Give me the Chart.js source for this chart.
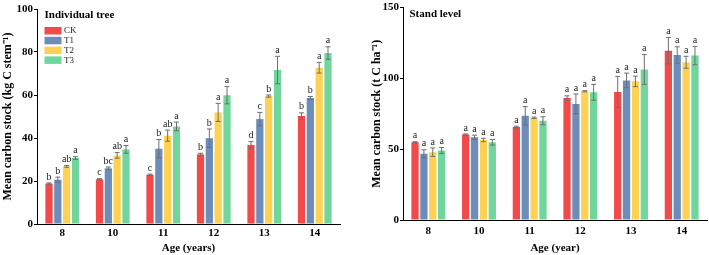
<!DOCTYPE html>
<html>
<head>
<meta charset="utf-8">
<script src="https://cdn.jsdelivr.net/npm/chart.js@4.4.1/dist/chart.umd.min.js"></script>
<style>
  html, body { margin: 0; padding: 0; background: #fff; }
  body { width: 709px; height: 255px; position: relative; overflow: hidden; }
  .panel { position: absolute; top: 0; height: 255px; }
  #left { left: 0; width: 343px; }
  #right { left: 355px; width: 354px; }
</style>
</head>
<body>
<div class="panel" id="left"><canvas id="treeChart"></canvas></div>
<div class="panel" id="right"><canvas id="standChart"></canvas></div>
<script>
// Categories and series
const ages = ['8', '10', '11', '12', '13', '14'];
const treatments = ['CK', 'T1', 'T2', 'T3'];
const colors = ['#F2494B', '#6C8DB9', '#FDD253', '#70D69B'];

// Individual tree carbon stock (kg C stem-1)
const treeCK = [18.8, 20.8, 22.9, 32.4, 36.8, 50.2];
const treeT1 = [20.6, 25.9, 35.0, 39.9, 48.8, 58.6];
const treeT2 = [26.8, 31.9, 41.1, 51.9, 59.5, 72.7];
const treeT3 = [30.7, 34.7, 45.4, 59.9, 71.6, 79.5];
const treeErrCK = [0.3, 0.3, 0.3, 0.5, 1.5, 1.5];
const treeErrT1 = [1.2, 0.6, 4.3, 4.3, 3.1, 0.7];
const treeErrT2 = [0.4, 1.3, 2.6, 4.2, 0.5, 2.5];
const treeErrT3 = [0.6, 1.8, 2.0, 4.0, 6.4, 2.9];
const treeLetCK = ['b', 'c', 'c', 'b', 'd', 'b'];
const treeLetT1 = ['b', 'bc', 'b', 'b', 'c', 'b'];
const treeLetT2 = ['ab', 'ab', 'ab', 'a', 'b', 'a'];
const treeLetT3 = ['a', 'a', 'a', 'a', 'a', 'a'];

// Stand level carbon stock (t C ha-1)
const standCK = [54.9, 60.3, 65.6, 86.2, 90.4, 119.6];
const standT1 = [46.7, 58.4, 73.6, 82.0, 98.6, 116.5];
const standT2 = [47.9, 56.5, 72.2, 90.9, 97.9, 111.4];
const standT3 = [49.1, 54.9, 70.1, 90.2, 106.3, 116.1];
const standErrCK = [0.4, 0.5, 0.6, 1.5, 11.0, 9.3];
const standErrT1 = [2.9, 1.5, 6.5, 7.0, 5.1, 5.8];
const standErrT2 = [3.0, 1.2, 0.5, 0.4, 3.7, 4.2];
const standErrT3 = [2.1, 2.0, 2.8, 5.6, 10.5, 6.5];
const standLetters = ['a', 'a', 'a', 'a', 'a', 'a'];

const serif = '"Liberation Serif", "Times New Roman", serif';

// Error bars and significance letters drawn on top of the bars
const errorBarPlugin = {
    id: 'errorBars',
    afterDatasetsDraw(chart) {
        const ctx = chart.ctx;
        const yScale = chart.scales.y;
        ctx.save();
        chart.data.datasets.forEach((ds, i) => {
            const meta = chart.getDatasetMeta(i);
            meta.data.forEach((bar, j) => {
                const v = ds.data[j];
                const e = ds.errors[j];
                const yTop = yScale.getPixelForValue(v + e);
                const yBot = yScale.getPixelForValue(v - e);
                ctx.strokeStyle = '#6f6f6f';
                ctx.lineWidth = 1;
                ctx.beginPath();
                ctx.moveTo(bar.x, yTop);
                ctx.lineTo(bar.x, yBot);
                ctx.moveTo(bar.x - 2.5, yTop);
                ctx.lineTo(bar.x + 2.5, yTop);
                ctx.moveTo(bar.x - 2.5, yBot);
                ctx.lineTo(bar.x + 2.5, yBot);
                ctx.stroke();
                ctx.fillStyle = '#222';
                ctx.font = '10px ' + serif;
                ctx.textAlign = 'center';
                ctx.textBaseline = 'bottom';
                ctx.fillText(ds.letters[j], bar.x, yTop - 1);
            });
        });
        ctx.restore();
    }
};

// Panel title plus legend box in the upper-left corner
const cornerPlugin = {
    id: 'corner',
    afterDraw(chart, args, opts) {
        const ctx = chart.ctx;
        const x0 = chart.chartArea.left + opts.dx;
        ctx.save();
        ctx.fillStyle = '#000';
        ctx.font = 'bold 11px ' + serif;
        ctx.textAlign = 'left';
        ctx.textBaseline = 'middle';
        ctx.fillText(opts.title, x0, opts.titleY);
        if (opts.legend) {
            chart.data.datasets.forEach((ds, i) => {
                const y = 27 + i * 9.8;
                ctx.fillStyle = ds.backgroundColor;
                ctx.fillRect(x0, y, 17, 7.5);
                ctx.fillStyle = '#222';
                ctx.font = '9px ' + serif;
                ctx.fillText(ds.label, x0 + 19.5, y + 4);
            });
        }
        ctx.restore();
    }
};

function makeDatasets(values, errors, letters, catPct, barPct) {
    return treatments.map((name, i) => ({
        label: name,
        data: values[i],
        errors: errors[i],
        letters: letters[i],
        backgroundColor: colors[i],
        borderWidth: 0,
        categoryPercentage: catPct,
        barPercentage: barPct
    }));
}

function makeChart(id, cfg) {
    return new Chart(document.getElementById(id), {
        type: 'bar',
        data: {
            labels: ages,
            datasets: makeDatasets(cfg.values, cfg.errors, cfg.letters, 0.7, 0.82)
        },
        plugins: [errorBarPlugin, cornerPlugin],
        options: {
            responsive: true,
            maintainAspectRatio: false,
            animation: false,
            layout: { padding: cfg.padding },
            plugins: {
                legend: { display: false },
                tooltip: { enabled: false },
                corner: cfg.corner
            },
            scales: {
                x: {
                    grid: { display: false, drawTicks: false },
                    border: { color: '#000', width: 1 },
                    ticks: {
                        color: '#000',
                        padding: cfg.xTickPad,
                        font: { family: serif, size: 11, weight: 'bold' }
                    },
                    title: {
                        display: true,
                        text: cfg.xTitle,
                        color: '#000',
                        padding: { top: 0, bottom: 0 },
                        font: { family: serif, size: 11, weight: 'bold' }
                    },
                    afterFit: s => { s.height = cfg.xHeight; }
                },
                y: {
                    min: 0,
                    max: cfg.max,
                    grid: { drawOnChartArea: false, drawTicks: true, tickLength: 3, color: '#000' },
                    border: { color: '#000', width: 1 },
                    ticks: {
                        stepSize: cfg.step,
                        color: '#000',
                        padding: 1,
                        font: { family: serif, size: 11, weight: 'bold' }
                    },
                    title: {
                        display: true,
                        text: cfg.yTitle,
                        color: '#000',
                        padding: { top: cfg.yTitlePad, bottom: 0 },
                        font: { family: serif, size: 12, weight: 'bold' }
                    },
                    afterFit: s => { s.width = cfg.yWidth; }
                }
            }
        }
    });
}

makeChart('treeChart', {
    values: [treeCK, treeT1, treeT2, treeT3],
    errors: [treeErrCK, treeErrT1, treeErrT2, treeErrT3],
    letters: [treeLetCK, treeLetT1, treeLetT2, treeLetT3],
    max: 100, step: 20,
    yTitle: 'Mean carbon stock (kg C stem\u207B\u00B9)',
    xTitle: 'Age (years)',
    yWidth: 37, yTitlePad: 1,
    xHeight: 31, xTickPad: 3,
    padding: { top: 9, right: 3, bottom: 0, left: 0 },
    corner: { title: 'Individual tree', titleY: 15, dx: 7.5, legend: true }
});

makeChart('standChart', {
    values: [standCK, standT1, standT2, standT3],
    errors: [standErrCK, standErrT1, standErrT2, standErrT3],
    letters: [standLetters, standLetters, standLetters, standLetters],
    max: 150, step: 50,
    yTitle: 'Mean carbon stock (t C ha\u207B\u00B9)',
    xTitle: 'Age (year)',
    yWidth: 48, yTitlePad: 15,
    xHeight: 35, xTickPad: 5,
    padding: { top: 6, right: 2, bottom: 0, left: 0 },
    corner: { title: 'Stand level', titleY: 14, dx: 6.5, legend: false }
});
</script>
</body>
</html>
